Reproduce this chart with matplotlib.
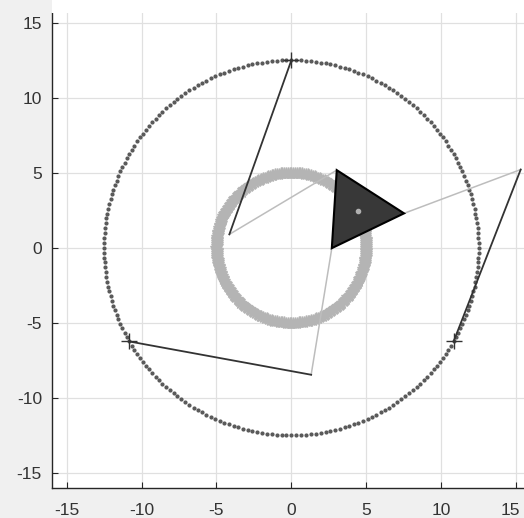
import numpy as np
import matplotlib.pyplot as plt
import matplotlib.transforms as mtransforms
from matplotlib.patches import Rectangle

plt.rcParams['axes.unicode_minus'] = False

# fixed base joints (on the big circle), elbows and platform vertices
base_x = [0.0, -10.83, 10.83]
base_y = [12.5, -6.25, -6.25]
elbow_x = [-4.14, 1.32, 15.31]
elbow_y = [0.89, -8.47, 5.21]
tri_x = [3.03, 2.70, 7.52]
tri_y = [5.17, -0.03, 2.29]

outer_r = 12.5
outer_n = 240
inner_r = 5.0
inner_n = 260

ticks = [-15, -10, -5, 0, 5, 10, 15]

fig = plt.figure(figsize=(5.24, 5.18), dpi=100)
fig.patch.set_facecolor('#f0f0f0')
# screenshot strip above the axes is white
fig.patches.append(Rectangle((0.0987, 0.975), 0.91, 0.03, transform=fig.transFigure,
                             facecolor='white', edgecolor='none', zorder=0))
ax = fig.add_axes([0.0987, 0.0585, 0.9013, 0.9165])
ax.set_facecolor('white')

t = np.linspace(0, 2*np.pi, outer_n, endpoint=False)
ax.plot(outer_r*np.cos(t), outer_r*np.sin(t), ls='none', marker='o',
        ms=2.0, mfc='#595959', mec='#595959', zorder=2)

t2 = np.linspace(0, 2*np.pi, inner_n, endpoint=False)
ax.plot(inner_r*np.cos(t2), inner_r*np.sin(t2), ls='none', marker='*',
        ms=8.5, mfc='#b4b4b4', mec='#b4b4b4', zorder=2)

for i in range(3):
    ax.plot([elbow_x[i], tri_x[i]], [elbow_y[i], tri_y[i]], color='#bdbdbd',
            lw=1.1, zorder=3)
    ax.plot([base_x[i], elbow_x[i]], [base_y[i], elbow_y[i]], color='#333333',
            lw=1.3, zorder=4)

ax.plot(base_x, base_y, ls='none', marker='+', ms=12, mew=1.0,
        color='#333333', zorder=5)

ax.fill(tri_x, tri_y, facecolor='#383838', edgecolor='black', lw=1.5, zorder=6)
ax.plot(np.mean(tri_x), np.mean(tri_y), marker='o', ms=3, color='#b0b0b0',
        zorder=7)

ax.set_xlim(-16, 15.53)
ax.set_ylim(-16, 15.65)
ax.set_xticks(ticks)
ax.set_yticks(ticks)
ax.grid(True, color='#e0e0e0', lw=0.9)
ax.set_axisbelow(True)

for s in ['top', 'right']:
    ax.spines[s].set_visible(False)
for s in ['left', 'bottom']:
    ax.spines[s].set_color('#262626')
    ax.spines[s].set_linewidth(1.0)

ax.tick_params(direction='in', length=4, width=0.8, color='#262626',
               labelsize=12.5, labelcolor='#333333')
ax.tick_params(axis='x', pad=11)
ax.tick_params(axis='y', pad=7)
for lab in ax.get_xticklabels() + ax.get_yticklabels():
    lab.set_fontfamily(['Liberation Sans', 'DejaVu Sans'])

# last x label sits at the figure edge; nudge it in a little
last = ax.get_xticklabels()[-1]
last.set_transform(last.get_transform() +
                   mtransforms.ScaledTranslation(-4/72, 0, fig.dpi_scale_trans))

fig.savefig('out.png', dpi=100, facecolor=fig.get_facecolor())
